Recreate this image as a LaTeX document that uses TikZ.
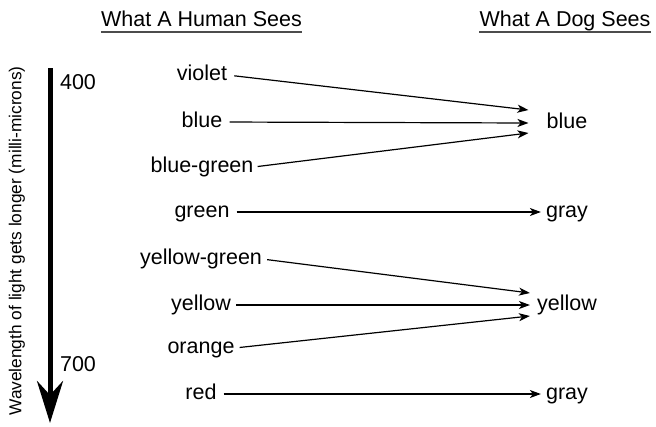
\documentclass[tikz,border=0pt]{standalone}
\usepackage{fontspec}
\setmainfont{Liberation Sans}
\usetikzlibrary{arrows.meta,calc}
\begin{document}
\begin{tikzpicture}[x=1pt,y=-1pt,
  lbl/.style={font=\fontsize{21.5}{25}\selectfont, text height=16pt, text depth=5.5pt, inner sep=0pt},
  side/.style={font=\fontsize{17.3}{20}\selectfont, inner sep=0pt},
  conn/.style={line width=1.2pt, -{Stealth[length=11pt,width=8pt,inset=3pt]}},
  uline/.style={line width=1.6pt, black!70},
  bigarrow/.style={line width=5pt, -{Stealth[length=42pt,width=26pt,inset=14pt]}}]
\useasboundingbox (0,0) rectangle (656,426);
% titles
\node[lbl] (th) at (201.5,21) {What A Human Sees};
\node[lbl] (td) at (565,21) {What A Dog Sees};
\draw[uline] ($(th.base west)+(0,6)$) -- ($(th.base east)+(0,6)$);
\draw[uline] ($(td.base west)+(0,6)$) -- ($(td.base east)+(0,6)$);
% wavelength axis
\coordinate (atop) at (50,68);
\coordinate (abot) at (50,423);
\draw[bigarrow] (atop) -- (abot);
\node[side, rotate=90] (wl) at (17,241) {Wavelength of light gets longer (milli-microns)};
\node[lbl] (n400) at (78,84) {400};
\node[lbl] (n700) at (78,366) {700};
% human labels
\node[lbl] (hviolet) at (202,75) {violet};
\node[lbl] (hblue) at (202,122) {blue};
\node[lbl] (hbg) at (202,167) {blue-green};
\node[lbl] (hgreen) at (202,212) {green};
\node[lbl] (hyg) at (201,259) {yellow-green};
\node[lbl] (hyellow) at (201,305) {yellow};
\node[lbl] (horange) at (201,348) {orange};
\node[lbl] (hred) at (201,394) {red};
% dog labels
\node[lbl] (dblue) at (567,123) {blue};
\node[lbl] (dgray1) at (567,212) {gray};
\node[lbl] (dyellow) at (567,305) {yellow};
\node[lbl] (dgray2) at (567,394) {gray};
% connectors
\draw[conn, shorten <=7pt] (hviolet.east) -- ($(dblue.west)+(-18,-13)$);
\draw[conn, shorten <=7pt] (hblue.east) -- ($(dblue.west)+(-18,0)$);
\draw[conn, shorten <=4pt] (hbg.east) -- ($(dblue.west)+(-18,10)$);
\draw[conn, shorten <=7pt, shorten >=5pt] (hgreen.east) -- (dgray1.west);
\draw[conn, shorten <=5pt] (hyg.east) -- ($(dyellow.west)+(-7,-12)$);
\draw[conn, shorten <=5pt] (hyellow.east) -- ($(dyellow.west)+(-7,0)$);
\draw[conn, shorten <=5pt] (horange.east) -- ($(dyellow.west)+(-7,11)$);
\draw[conn, shorten <=7pt, shorten >=5pt] (hred.east) -- (dgray2.west);
\end{tikzpicture}
\end{document}
